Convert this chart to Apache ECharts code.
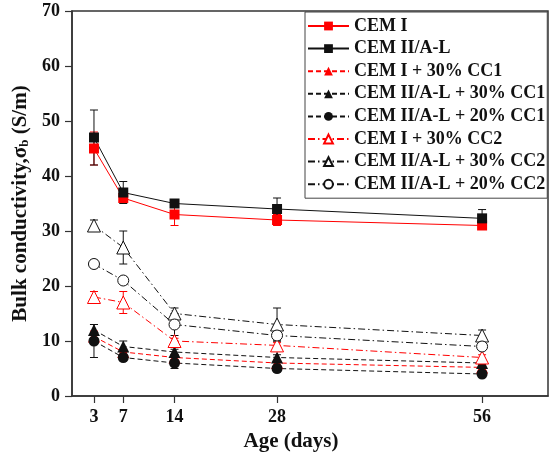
<!DOCTYPE html>
<html>
<head>
<meta charset="utf-8">
<script src="https://cdn.jsdelivr.net/npm/echarts@6/dist/echarts.min.js"></script>
<style>
  html, body { margin: 0; padding: 0; background: #fff; }
  #chart { width: 549px; height: 452px; }
</style>
</head>
<body>
<div id="chart"></div>
<script>
// ages (days) and values
const ages = [3, 7, 14, 28, 56];
const cemI = [45, 36, 33, 32, 31];
const cemII = [47, 37, 35, 34, 32.3];
const cemI30cc1 = [10.8, 8, 7, 6, 5.2];
const cemII30cc1 = [12, 9, 8, 7, 6];
const cemII20cc1 = [10, 7, 6, 5, 4];
const cemI30cc2 = [18, 17, 10, 9.2, 7];
const cemII30cc2 = [31, 27, 15, 13, 11];
const cemII20cc2 = [24, 21, 13, 11, 9];

// half error bars
const errCemI = [3, 0.5, 2, 1, 0.5];
const errCemII = [5, 2, 0.5, 2, 1.6];
const errCemI30cc1 = [1, 0.5, 0.5, 0.5, 0.5];
const errCemII30cc1 = [1, 1, 0.5, 0.5, 0.5];
const errCemII20cc1 = [3, 0.5, 1, 0.5, 0.5];
const errCemI30cc2 = [1, 2, 0.5, 0.5, 0.5];
const errCemII30cc2 = [1, 3, 1, 3, 1];
const errCemII20cc2 = [0.7, 0.7, 2, 1, 0.5];

const xTicks = [3, 7, 14, 28, 56];
const RED = '#ff0000';
const BLACK = '#111111';
const FONT = '"Liberation Serif", "Times New Roman", serif';

const dashed = [5, 3];
const dashDot = [7, 3, 1.5, 3];

const defs = [
  {name: 'CEM I', data: cemI, err: errCemI, color: RED, symbol: 'rect', size: 10, open: false, line: 'solid'},
  {name: 'CEM II/A-L', data: cemII, err: errCemII, color: BLACK, symbol: 'rect', size: 10, open: false, line: 'solid'},
  {name: 'CEM I + 30% CC1', data: cemI30cc1, err: errCemI30cc1, color: RED, symbol: 'triangle', size: 12, open: false, line: dashed},
  {name: 'CEM II/A-L + 30% CC1', data: cemII30cc1, err: errCemII30cc1, color: BLACK, symbol: 'triangle', size: 12, open: false, line: dashed},
  {name: 'CEM II/A-L + 20% CC1', data: cemII20cc1, err: errCemII20cc1, color: BLACK, symbol: 'circle', size: 11, open: false, line: dashed},
  {name: 'CEM I + 30% CC2', data: cemI30cc2, err: errCemI30cc2, color: RED, symbol: 'triangle', size: 13, open: true, line: dashDot},
  {name: 'CEM II/A-L + 30% CC2', data: cemII30cc2, err: errCemII30cc2, color: BLACK, symbol: 'triangle', size: 13, open: true, line: dashDot},
  {name: 'CEM II/A-L + 20% CC2', data: cemII20cc2, err: errCemII20cc2, color: BLACK, symbol: 'circle', size: 11, open: true, line: dashDot}
];

function errRender(color) {
  return function (params, api) {
    const x = api.value(0);
    const lo = api.coord([x, api.value(1)]);
    const hi = api.coord([x, api.value(2)]);
    const w = 4;
    const st = {stroke: color, lineWidth: 1};
    return {
      type: 'group',
      children: [
        {type: 'line', shape: {x1: lo[0], y1: lo[1], x2: hi[0], y2: hi[1]}, style: st},
        {type: 'line', shape: {x1: lo[0] - w, y1: lo[1], x2: lo[0] + w, y2: lo[1]}, style: st},
        {type: 'line', shape: {x1: hi[0] - w, y1: hi[1], x2: hi[0] + w, y2: hi[1]}, style: st}
      ]
    };
  };
}

const series = [];
defs.forEach(d => {
  series.push({
    name: d.name + ' err',
    type: 'custom',
    renderItem: errRender(d.color),
    data: ages.map((a, i) => [a, d.data[i] - d.err[i], d.data[i] + d.err[i]]),
    encode: {x: 0, y: [1, 2]},
    z: 1,
    silent: true
  });
});
defs.forEach(d => {
  series.push({
    name: d.name,
    type: 'line',
    data: ages.map((a, i) => [a, d.data[i]]),
    symbol: d.symbol,
    symbolSize: d.size,
    color: d.color,
    lineStyle: {color: d.color, width: 1, type: d.line},
    itemStyle: d.open
      ? {color: '#fff', borderColor: d.color, borderWidth: 1}
      : {color: d.color, borderColor: d.color, borderWidth: 0},
    z: 3
  });
});

const chart = echarts.init(document.getElementById('chart'), null, {renderer: 'canvas'});
chart.setOption({
  animation: false,
  backgroundColor: '#fff',
  grid: {
    left: 72, right: 1, top: 11, bottom: 56,
    outerBoundsMode: 'none',
    show: true, borderColor: '#333', borderWidth: 1.5
  },
  legend: {
    data: defs.map(d => d.name),
    orient: 'vertical',
    left: 305,
    top: 12,
    padding: [5, 2, 5, 2],
    itemGap: 4.6,
    itemWidth: 41,
    itemHeight: 11,
    borderColor: '#444',
    borderWidth: 1,
    backgroundColor: '#fff',
    textStyle: {fontFamily: FONT, fontWeight: 'bold', fontSize: 18, color: '#111', lineHeight: 18}
  },
  xAxis: {
    type: 'value',
    min: 0,
    max: 65,
    name: 'Age (days)',
    nameLocation: 'middle',
    nameGap: 34,
    nameTextStyle: {fontFamily: FONT, fontWeight: 'bold', fontSize: 21, color: '#111', padding: [0, 38, 0, 0]},
    splitLine: {show: false},
    axisLine: {lineStyle: {color: '#333', width: 1.5}},
    axisTick: {show: true, inside: false, length: 7, customValues: xTicks, lineStyle: {color: '#333', width: 1.2}},
    axisLabel: {customValues: xTicks, margin: 12, fontFamily: FONT, fontWeight: 'bold', fontSize: 18, color: '#111'}
  },
  yAxis: {
    type: 'value',
    min: 0,
    max: 70,
    interval: 10,
    name: 'Bulk conductivity,σ{sub|b} (S/m)',
    nameLocation: 'middle',
    nameGap: 37,
    nameTextStyle: {
      fontFamily: FONT, fontWeight: 'bold', fontSize: 21, color: '#111',
      rich: {sub: {fontFamily: FONT, fontWeight: 'bold', fontSize: 13, color: '#111', verticalAlign: 'bottom', padding: [9, 0, 0, 0]}}
    },
    splitLine: {show: false},
    axisLine: {show: true, lineStyle: {color: '#333', width: 1.5}},
    axisTick: {show: true, inside: false, length: 7, lineStyle: {color: '#333', width: 1.2}},
    axisLabel: {margin: 12, fontFamily: FONT, fontWeight: 'bold', fontSize: 18, color: '#111'}
  },
  series: series
});
</script>
</body>
</html>
